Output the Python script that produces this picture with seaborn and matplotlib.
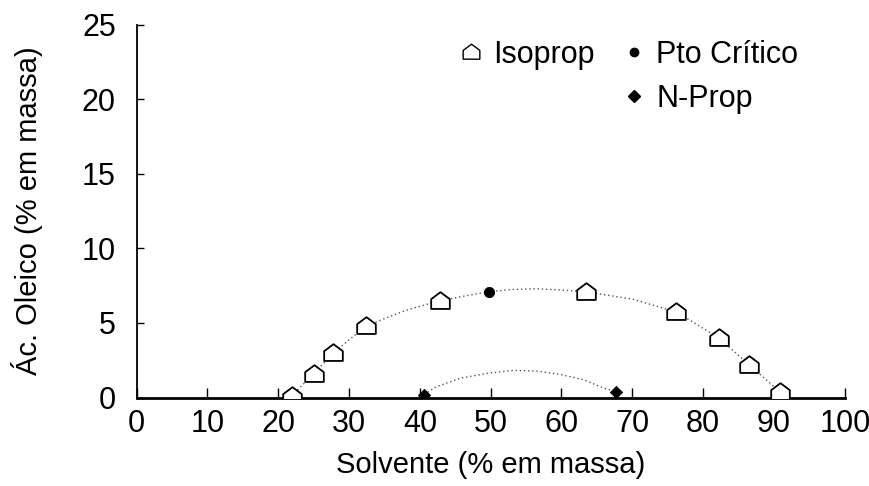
import numpy as np
import pandas as pd
import matplotlib
matplotlib.use("Agg")
import matplotlib.pyplot as plt
import seaborn as sns
from matplotlib.lines import Line2D
from matplotlib.path import Path

# ---- data ----
iso_x = [21.9, 25.0, 27.8, 32.4, 42.8, 63.4, 76.2, 82.2, 86.5, 90.8]
iso_y = [0.1, 1.6, 3.0, 4.8, 6.5, 7.1, 5.75, 4.0, 2.2, 0.4]

crit_x = [49.7]
crit_y = [7.1]

nprop_x = [40.6, 67.7]
nprop_y = [0.2, 0.4]

# dotted fitted curves
iso_curve_x = [21.9, 25.0, 27.8, 32.4, 37.7, 42.8, 49.7, 53.2, 56.5, 60.3, 63.4, 70.0, 76.2, 82.2, 86.5, 90.8]
iso_curve_y = [0.1, 1.6, 3.0, 4.8, 5.8, 6.5, 7.1, 7.25, 7.3, 7.2, 7.1, 6.6, 5.75, 4.0, 2.2, 0.4]

nprop_curve_x = [40.6, 42.2, 45.7, 49.9, 53.2, 56.5, 59.8, 63.1, 65.9, 67.7]
nprop_curve_y = [0.2, 0.7, 1.3, 1.65, 1.82, 1.78, 1.55, 1.2, 0.65, 0.4]

x_ticks = [0, 10, 20, 30, 40, 50, 60, 70, 80, 90, 100]
y_ticks = [0, 5, 10, 15, 20, 25]

sns.set_theme(style="ticks")
plt.rcParams['font.family'] = ['Liberation Sans', 'DejaVu Sans']
plt.rcParams['text.color'] = 'black'
plt.rcParams['axes.labelcolor'] = 'black'
plt.rcParams['xtick.color'] = 'black'
plt.rcParams['ytick.color'] = 'black'

fig = plt.figure(figsize=(8.7, 4.86), dpi=100)
ax = fig.add_axes([0.157, 0.182, 0.814, 0.767])

house = Path([(-1, -0.8), (1, -0.8), (1, 0.25), (0, 1.0), (-1, 0.25), (-1, -0.8)],
             [Path.MOVETO, Path.LINETO, Path.LINETO, Path.LINETO, Path.LINETO, Path.CLOSEPOLY])

dot_style = dict(color="#555555", linewidth=1.0, linestyle=(0, (1, 2)))
sns.lineplot(x=iso_curve_x, y=iso_curve_y, ax=ax, sort=False, **dot_style)
sns.lineplot(x=nprop_curve_x, y=nprop_curve_y, ax=ax, sort=False, **dot_style)

sns.scatterplot(x=iso_x, y=iso_y, ax=ax, marker=house, s=180, facecolor="white",
                edgecolor="black", linewidth=1.3, zorder=4)
sns.scatterplot(x=crit_x, y=crit_y, ax=ax, marker="o", s=55, color="black",
                edgecolor="black", zorder=5)
sns.scatterplot(x=nprop_x, y=nprop_y, ax=ax, marker="D", s=40, color="black",
                edgecolor="black", zorder=5)

ax.set_xlim(0, 100)
ax.set_ylim(0, 25)
ax.set_xticks(x_ticks)
ax.set_yticks(y_ticks)
ax.tick_params(axis="x", direction="in", length=7, width=1, pad=8, labelsize=22, colors="black")
ax.tick_params(axis="y", direction="in", length=5, width=1, pad=15, labelsize=22, colors="black")
for s in ("top", "right"):
    ax.spines[s].set_visible(False)
ax.spines["bottom"].set_linewidth(2.0)
ax.spines["left"].set_linewidth(1.3)
ax.spines["bottom"].set_color("black")
ax.spines["left"].set_color("black")

ax.set_xlabel("Solvente (% em massa)", fontsize=21, labelpad=9, color="black")
ax.set_ylabel("Ác. Oleico (% em massa)", fontsize=21, labelpad=28, color="black")

h_iso = Line2D([], [], linestyle="none", marker=house, markersize=12,
               markerfacecolor="white", markeredgecolor="black", markeredgewidth=1.0)
h_blank = Line2D([], [], linestyle="none", marker="none")
h_crit = Line2D([], [], linestyle="none", marker="o", markersize=6,
                markerfacecolor="black", markeredgecolor="black")
h_np = Line2D([], [], linestyle="none", marker="D", markersize=6,
              markerfacecolor="black", markeredgecolor="black")
leg = ax.legend([h_iso, h_blank, h_crit, h_np], ["Isoprop", "", "Pto Crítico", "N-Prop"],
                ncol=2, frameon=False, fontsize=22, loc="upper left",
                bbox_to_anchor=(0.505, 0.962), bbox_transform=fig.transFigure,
                handlelength=0.7, handletextpad=0.36, columnspacing=0.95,
                labelspacing=0.45, borderpad=0.2, labelcolor="black")

fig.savefig("out.png", dpi=100, facecolor="white")
